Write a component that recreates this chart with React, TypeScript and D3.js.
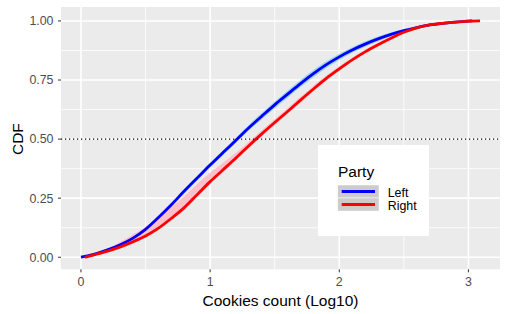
import * as d3 from "d3";
import React from "react";

// CDF of log10 cookie counts, by party
const leftX = [0, 0.1, 0.2, 0.3, 0.4, 0.5, 0.6, 0.7, 0.8, 0.9, 1.0, 1.1, 1.2, 1.3, 1.4, 1.5, 1.6, 1.7, 1.8, 1.9, 2.0, 2.1, 2.2, 2.3, 2.4, 2.5, 2.6, 2.7, 2.8, 2.9, 3.03];
const leftCdf = [0, 0.012, 0.03, 0.052, 0.08, 0.118, 0.168, 0.222, 0.28, 0.335, 0.39, 0.443, 0.495, 0.548, 0.597, 0.645, 0.69, 0.735, 0.777, 0.815, 0.848, 0.877, 0.902, 0.924, 0.943, 0.959, 0.972, 0.983, 0.99, 0.995, 1.0];
const leftBand = [0, 0.003, 0.004, 0.005, 0.006, 0.007, 0.008, 0.008, 0.009, 0.009, 0.01, 0.01, 0.011, 0.012, 0.013, 0.014, 0.015, 0.015, 0.015, 0.014, 0.013, 0.012, 0.011, 0.01, 0.008, 0.007, 0.006, 0.005, 0.004, 0.003, 0];

const rightX = [0.03, 0.1, 0.2, 0.3, 0.4, 0.5, 0.6, 0.7, 0.8, 0.9, 1.0, 1.1, 1.2, 1.3, 1.4, 1.5, 1.6, 1.7, 1.8, 1.9, 2.0, 2.1, 2.2, 2.3, 2.4, 2.5, 2.6, 2.7, 2.8, 2.9, 3.09];
const rightCdf = [0, 0.01, 0.025, 0.043, 0.065, 0.09, 0.123, 0.165, 0.21, 0.265, 0.32, 0.37, 0.42, 0.472, 0.522, 0.57, 0.617, 0.665, 0.712, 0.757, 0.797, 0.835, 0.869, 0.899, 0.927, 0.952, 0.971, 0.983, 0.99, 0.995, 1.0];
const rightBandUp = [0, 0.004, 0.01, 0.02, 0.03, 0.038, 0.045, 0.048, 0.048, 0.045, 0.038, 0.03, 0.022, 0.017, 0.015, 0.014, 0.014, 0.014, 0.013, 0.012, 0.011, 0.01, 0.009, 0.008, 0.007, 0.006, 0.005, 0.004, 0.003, 0.002, 0];
const rightBandDown = [0, 0.003, 0.005, 0.006, 0.007, 0.008, 0.009, 0.01, 0.01, 0.01, 0.01, 0.01, 0.01, 0.01, 0.01, 0.01, 0.01, 0.01, 0.01, 0.009, 0.008, 0.008, 0.007, 0.006, 0.005, 0.004, 0.004, 0.003, 0.002, 0.001, 0];

const xTicks = [0, 1, 2, 3];
const xMinor = [0.5, 1.5, 2.5];
const yTicks = [0, 0.25, 0.5, 0.75, 1];
const yMinor = [0.125, 0.375, 0.625, 0.875];
const parties = ["Left", "Right"];

const W = 505;
const H = 314;
const FONT = "'Liberation Sans', Arial, sans-serif";

export default function App() {
  const panel = { left: 61, right: 500, top: 7, bottom: 269.3 };
  const dataMax = 3.09;
  const pad = dataMax * 0.05;
  const x = d3.scaleLinear().domain([-pad, dataMax + pad]).range([panel.left, panel.right]);
  const y = d3.scaleLinear().domain([-0.051, 1.059]).range([panel.bottom, panel.top]);

  const line = d3
    .line<[number, number]>()
    .x((d) => x(d[0]))
    .y((d) => y(d[1]))
    .curve(d3.curveMonotoneX);
  const area = d3
    .area<[number, number, number]>()
    .x((d) => x(d[0]))
    .y0((d) => y(d[1]))
    .y1((d) => y(d[2]))
    .curve(d3.curveMonotoneX);

  const leftPts = leftX.map((v, i) => [v, leftCdf[i]] as [number, number]);
  const rightPts = rightX.map((v, i) => [v, rightCdf[i]] as [number, number]);
  const leftArea = leftX.map((v, i) => [v, leftCdf[i] - leftBand[i], leftCdf[i] + leftBand[i]] as [number, number, number]);
  const rightArea = rightX.map(
    (v, i) => [v, rightCdf[i] - rightBandDown[i], rightCdf[i] + rightBandUp[i]] as [number, number, number]
  );

  const colors: Record<string, string> = { Left: "#0000FF", Right: "#FF0000" };

  return (
    <svg
      width={W}
      height={H}
      style={{ position: "absolute", left: 0, top: 0, background: "#fff" }}
      fontFamily={FONT}
    >
      {/* panel */}
      <rect x={panel.left} y={panel.top} width={panel.right - panel.left} height={panel.bottom - panel.top} fill="#EBEBEB" />
      {xMinor.map((t) => (
        <line key={"xm" + t} x1={x(t)} x2={x(t)} y1={panel.top} y2={panel.bottom} stroke="#fff" strokeWidth={0.8} />
      ))}
      {yMinor.map((t) => (
        <line key={"ym" + t} x1={panel.left} x2={panel.right} y1={y(t)} y2={y(t)} stroke="#fff" strokeWidth={0.8} />
      ))}
      {xTicks.map((t) => (
        <line key={"xg" + t} x1={x(t)} x2={x(t)} y1={panel.top} y2={panel.bottom} stroke="#fff" strokeWidth={1.6} />
      ))}
      {yTicks.map((t) => (
        <line key={"yg" + t} x1={panel.left} x2={panel.right} y1={y(t)} y2={y(t)} stroke="#fff" strokeWidth={1.6} />
      ))}

      {/* ribbons */}
      <path d={area(leftArea) ?? ""} fill="#87CEEB" opacity={0.8} />
      <path d={area(rightArea) ?? ""} fill="#FFC0CB" />

      {/* lines */}
      <path d={line(leftPts) ?? ""} fill="none" stroke={colors.Left} strokeWidth={2.8} />
      <path d={line(rightPts) ?? ""} fill="none" stroke={colors.Right} strokeWidth={2.8} />

      {/* median reference */}
      <line x1={panel.left} x2={panel.right} y1={y(0.5)} y2={y(0.5)} stroke="#000" strokeWidth={1.2} strokeDasharray="1.2 2.8" />

      {/* axes */}
      {xTicks.map((t) => (
        <g key={"xt" + t}>
          <line x1={x(t)} x2={x(t)} y1={panel.bottom} y2={panel.bottom + 3} stroke="#333" strokeWidth={1} />
          <text x={x(t)} y={panel.bottom + 16.3} textAnchor="middle" fontSize={12.4} fill="#4D4D4D">
            {t}
          </text>
        </g>
      ))}
      {yTicks.map((t) => (
        <g key={"yt" + t}>
          <line x1={panel.left - 3} x2={panel.left} y1={y(t)} y2={y(t)} stroke="#333" strokeWidth={1} />
          <text x={panel.left - 7.5} y={y(t) + 4.4} textAnchor="end" fontSize={12.4} fill="#4D4D4D">
            {d3.format(".2f")(t)}
          </text>
        </g>
      ))}
      <text x={(panel.left + panel.right) / 2} y={306} textAnchor="middle" fontSize={15.5} fill="#000">
        Cookies count (Log10)
      </text>
      <text transform={`translate(22.5, ${y(0.5)}) rotate(-90)`} textAnchor="middle" fontSize={15.5} fill="#000">
        CDF
      </text>

      {/* legend */}
      <g transform="translate(318, 145)">
        <rect width={111} height={91} fill="#fff" />
        <text x={20} y={31.7} fontSize={15.5} fill="#000">
          Party
        </text>
        {parties.map((p, i) => (
          <g key={p} transform={`translate(19.7, ${40 + i * 13})`}>
            <rect width={41.3} height={13} fill="#CCCCCC" stroke="#fff" strokeWidth={0.5} />
            <line x1={4} x2={37.3} y1={6.5} y2={6.5} stroke={colors[p]} strokeWidth={2.8} />
            <text x={50} y={11.6} fontSize={12.4} fill="#000">
              {p}
            </text>
          </g>
        ))}
      </g>
    </svg>
  );
}
